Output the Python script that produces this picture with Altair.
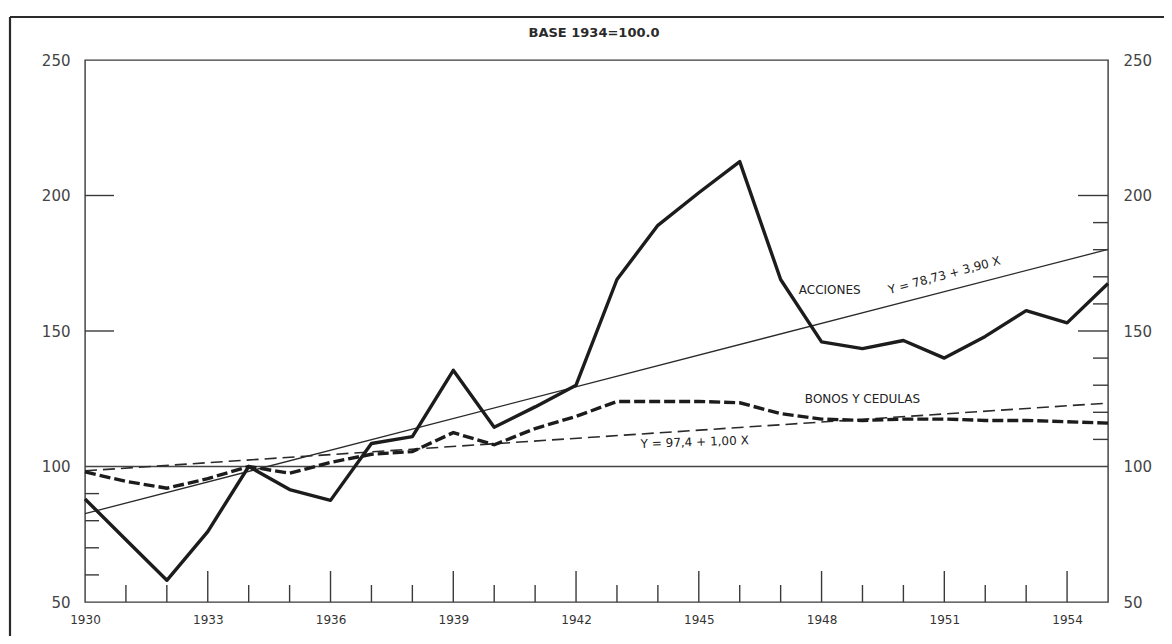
import altair as alt
import pandas as pd

# ---- data ----
years = list(range(1930, 1956))
acciones = [88, 73, 58, 76, 100, 91.5, 87.5, 108.5, 111, 135.5, 114.5, 122, 130,
            169, 189, 201, 212.5, 169, 146, 143.5, 146.5, 140, 148, 157.5, 153, 167.5]
bonos = [98, 94.5, 92, 95.5, 100, 97.5, 101.5, 104.5, 105.5, 112.5, 108, 114, 118.5,
         124, 124, 124, 123.5, 119.5, 117.5, 117, 117.5, 117.5, 117, 117, 116.5, 116]

trend_years = [1930, 1955]
trend_acciones = [82.6, 180.1]   # Y = 78,73 + 3,90 X
trend_bonos = [98.4, 123.4]      # Y = 97,4 + 1,00 X
base_level = [100]

x_label_years = [1930, 1933, 1936, 1939, 1942, 1945, 1948, 1951, 1954]
y_label_values = [50, 100, 150, 200, 250]
x_major_ticks = [1933, 1936, 1939, 1942, 1945, 1948, 1951, 1954]
x_minor_ticks = [1931, 1932, 1934, 1935, 1937, 1938, 1940, 1941, 1943, 1944,
                 1946, 1947, 1949, 1950, 1952, 1953]
left_minor_ticks = [60, 70, 80, 90]
left_major_ticks = [150, 200]
right_minor_ticks = [110, 120, 130, 140, 160, 170, 180, 190]
right_major_ticks = [150, 200]

annot_text = ["ACCIONES", "Y = 78,73 + 3,90 X", "BONOS Y CEDULAS", "Y = 97,4 + 1,00 X"]
annot_year = [1948.2, 1951.0, 1949.0, 1944.9]
annot_value = [165.0, 170.6, 125.0, 109.0]
annot_angle = [0, 345, 0, 358]
base_title = "BASE 1934=100.0"

# ---- layout / style ----
W, H = 1023, 542
FONT = "DejaVu Sans"
INK = "#1c1c1c"
FRAME = "#3a3a3a"

xscale = alt.Scale(domain=[1930, 1955], nice=False, zero=False)
yscale = alt.Scale(domain=[50, 250], nice=False, zero=False)

x_axis = alt.Axis(values=x_label_years, format="d", title=None, ticks=False, tickSize=0,
                  domain=False, grid=False, labelPadding=12, labelFontSize=12,
                  labelFont=FONT, labelColor="#333", labelFlush=False)
y_left = alt.Axis(values=y_label_values, title=None, ticks=False, tickSize=0, domain=False,
                  grid=False, labelPadding=15, labelFontSize=15, labelFont=FONT,
                  labelColor="#444", orient="left", labelFlush=False)
y_right = alt.Axis(values=y_label_values, title=None, ticks=False, tickSize=0, domain=False,
                   grid=False, labelPadding=15, labelFontSize=15, labelFont=FONT,
                   labelColor="#444", orient="right", labelFlush=False)

df = pd.DataFrame({"year": years, "acciones": acciones, "bonos": bonos})
tdf = pd.DataFrame({"year": trend_years, "acc": trend_acciones, "bon": trend_bonos})

X = alt.X("year:Q", scale=xscale, axis=x_axis)

acc_line = alt.Chart(df).mark_line(color=INK, strokeWidth=3.4, strokeJoin="round").encode(
    x=X, y=alt.Y("acciones:Q", scale=yscale, axis=y_left))
bon_line = alt.Chart(df).mark_line(color=INK, strokeWidth=3.4, strokeDash=[11, 4]).encode(
    x=X, y=alt.Y("bonos:Q", scale=yscale, axis=y_right))
acc_trend = alt.Chart(tdf).mark_line(color="#2a2a2a", strokeWidth=1.3).encode(
    x=X, y=alt.Y("acc:Q", scale=yscale, axis=None))
bon_trend = alt.Chart(tdf).mark_line(color="#2a2a2a", strokeWidth=1.6, strokeDash=[12, 6]).encode(
    x=X, y=alt.Y("bon:Q", scale=yscale, axis=None))
base_rule = alt.Chart(pd.DataFrame({"v": base_level})).mark_rule(color="#444", strokeWidth=1.3).encode(
    y=alt.Y("v:Q", scale=yscale, axis=None))

def xticks(vals, length):
    return alt.Chart(pd.DataFrame({"year": vals})).mark_rule(color=FRAME, strokeWidth=1.4).encode(
        x=X, y=alt.value(H), y2=alt.value(H - length))

def lticks(vals, length):
    return alt.Chart(pd.DataFrame({"v": vals})).mark_rule(color=FRAME, strokeWidth=1.4).encode(
        y=alt.Y("v:Q", scale=yscale, axis=None), x=alt.value(0), x2=alt.value(length))

def rticks(vals, length):
    return alt.Chart(pd.DataFrame({"v": vals})).mark_rule(color=FRAME, strokeWidth=1.4).encode(
        y=alt.Y("v:Q", scale=yscale, axis=None), x=alt.value(W), x2=alt.value(W - length))

adf = pd.DataFrame({"t": annot_text, "year": annot_year, "v": annot_value, "a": annot_angle})
annots = []
for i in range(len(annot_text)):
    annots.append(
        alt.Chart(adf.iloc[[i]]).mark_text(font=FONT, fontSize=12, color="#222",
                                           fontWeight=500,
                                           angle=int(annot_angle[i])).encode(
            x=X, y=alt.Y("v:Q", scale=yscale, axis=None), text="t:N"))

title_txt = alt.Chart(pd.DataFrame({"t": [base_title]})).mark_text(
    font=FONT, fontSize=13, fontWeight=600, color="#2a2a2a").encode(
    x=alt.value(509), y=alt.value(-27), text="t:N")

one = pd.DataFrame({"a": [0]})
frame_left = alt.Chart(one).mark_rule(color="#2a2a2a", strokeWidth=2.2).encode(
    x=alt.value(-75), y=alt.value(-43), y2=alt.value(576))
frame_top = alt.Chart(one).mark_rule(color="#2a2a2a", strokeWidth=2.2).encode(
    x=alt.value(-75), x2=alt.value(1079), y=alt.value(-43))

chart = alt.layer(
    base_rule, acc_trend, bon_trend, bon_line, acc_line,
    xticks(x_minor_ticks, 17), xticks(x_major_ticks, 31),
    lticks(left_minor_ticks, 14), lticks(left_major_ticks, 29),
    rticks(right_minor_ticks, 15), rticks(right_major_ticks, 30),
    *annots, title_txt, frame_left, frame_top,
).resolve_scale(y="independent").properties(
    width=W, height=H,
    autosize=alt.AutoSizeParams(type="none"),
    padding={"left": 77, "top": 52, "right": 56, "bottom": 34},
    background="white",
).configure_view(stroke=FRAME, strokeWidth=1.4)

chart.save("out.html", embed_options={"renderer": "svg", "actions": False})
